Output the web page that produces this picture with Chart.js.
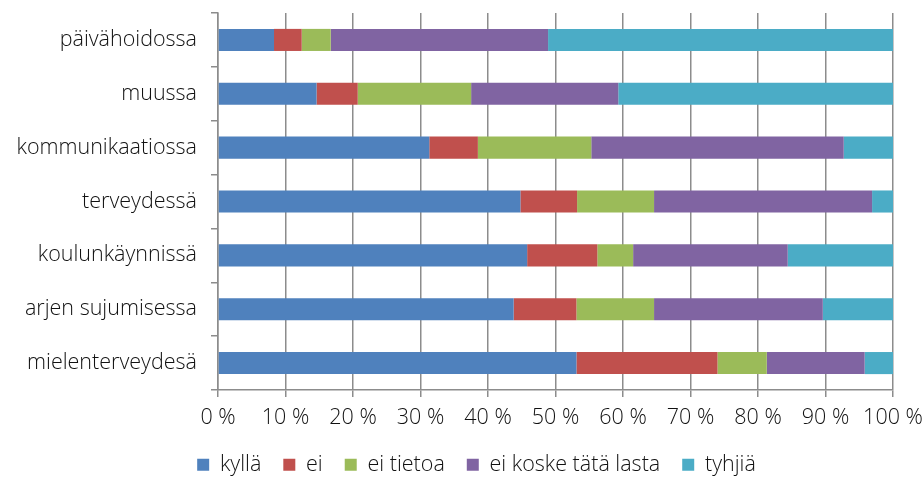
<!DOCTYPE html>
<html>
<head>
<meta charset="utf-8">
<script src="https://cdn.jsdelivr.net/npm/chart.js@4"></script>
<style>
  html, body { margin: 0; padding: 0; background: #fff; }
  #wrap { width: 924px; height: 477px; }
</style>
</head>
<body>
<div id="wrap"><canvas id="chart"></canvas></div>
<script>
const categories = ["päivähoidossa", "muussa", "kommunikaatiossa", "terveydessä", "koulunkäynnissä", "arjen sujumisessa", "mielenterveydesä"];
const seriesNames = ["kyllä", "ei", "ei tietoa", "ei koske tätä lasta", "tyhjiä"];
const kylla = [8.3, 14.6, 31.3, 44.8, 45.8, 43.8, 53.1];
const ei = [4.1, 6.1, 7.2, 8.4, 10.4, 9.3, 20.9];
const eiTietoa = [4.3, 16.8, 16.8, 11.4, 5.3, 11.5, 7.3];
const eiKoske = [32.2, 21.8, 37.4, 32.3, 22.9, 25.0, 14.5];
const tyhjia = [51.1, 40.7, 7.3, 3.1, 15.6, 10.4, 4.2];
const xTicks = [0, 10, 20, 30, 40, 50, 60, 70, 80, 90, 100];

const colors = ["#4F81BD", "#C0504D", "#9BBB59", "#8064A2", "#4BACC6"];
const values = [kylla, ei, eiTietoa, eiKoske, tyhjia];

const gridColor = "#8c8c8c";
const font = { family: "'Open Sans', sans-serif", size: 21.5, weight: 350 };

// legend: fixed height, nudged right/down to sit where the original has it
const legendFix = {
  id: "legendFix",
  beforeLayout(chart) {
    const lg = chart.legend;
    if (lg && !lg._patched) {
      const fit = lg.fit;
      lg.fit = function () { fit.call(this); this.height = 48; };
      lg._patched = true;
    }
  },
  afterLayout(chart) {
    const lg = chart.legend;
    lg.left += 25; lg.right += 25;
    lg.top += 3; lg.bottom += 3;
  }
};

new Chart(document.getElementById("chart"), {
  type: "bar",
  data: {
    labels: categories,
    datasets: seriesNames.map((name, i) => ({
      label: name,
      data: values[i],
      backgroundColor: colors[i],
      borderWidth: 0,
      barPercentage: 0.41,
      categoryPercentage: 1
    }))
  },
  plugins: [legendFix],
  options: {
    indexAxis: "y",
    responsive: true,
    maintainAspectRatio: false,
    animation: false,
    layout: { padding: { top: 13, left: 10, right: 31, bottom: 0 } },
    plugins: {
      tooltip: { enabled: false },
      legend: {
        position: "bottom",
        labels: {
          font: font,
          color: "#111",
          boxWidth: 12,
          boxHeight: 12,
          padding: 22
        }
      }
    },
    scales: {
      x: {
        stacked: true,
        min: 0,
        max: 100,
        afterBuildTicks: s => { s.ticks = xTicks.map(v => ({ value: v })); },
        afterFit: s => { s.height = 39; s.paddingLeft = 0; s.paddingRight = 0; },
        ticks: { font: font, color: "#111", padding: 8, callback: v => v + " %" },
        grid: { color: gridColor, lineWidth: 1.5, tickLength: 7 },
        border: { color: gridColor, width: 1.5 }
      },
      y: {
        stacked: true,
        afterFit: s => { s.width = 208; s.paddingTop = 0; s.paddingBottom = 0; },
        ticks: { font: font, color: "#111", padding: 14 },
        grid: { offset: true, drawOnChartArea: false, color: gridColor, lineWidth: 1.5, tickLength: 7 },
        border: { color: gridColor, width: 1.5 }
      }
    }
  }
});
</script>
</body>
</html>
